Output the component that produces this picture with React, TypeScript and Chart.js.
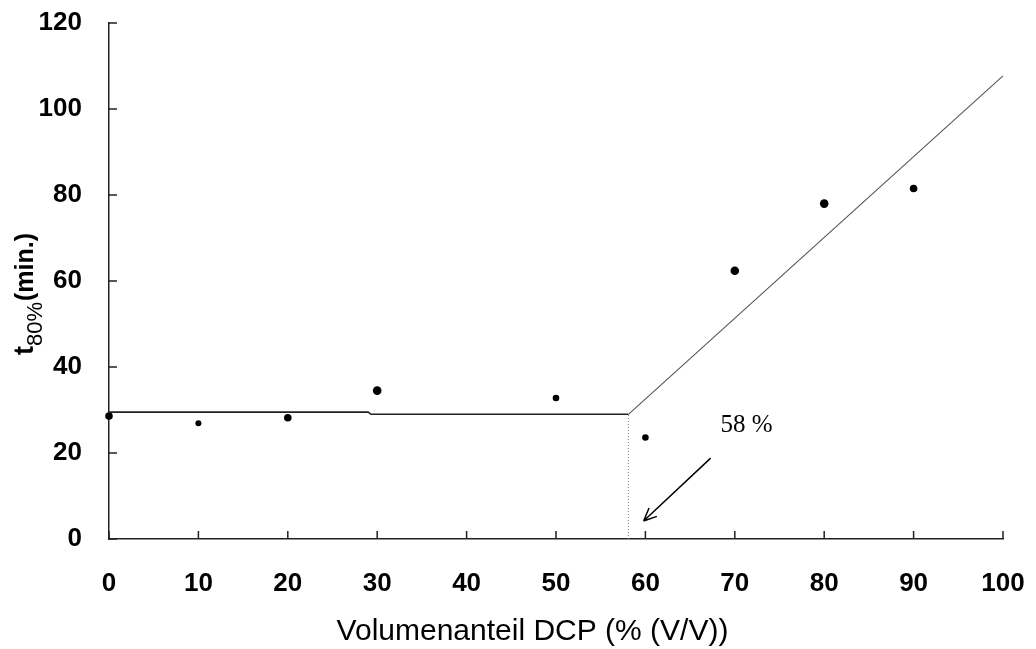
import React, { useEffect, useRef } from 'react';
import { Chart, registerables } from 'chart.js';

Chart.register(...registerables);

// ---- data ----
const xValues = [0, 10, 20, 30, 50, 60, 70, 80, 90];
const tValues = [28.6, 26.9, 28.2, 34.5, 32.8, 23.6, 62.4, 78.0, 81.5];

const plateauX = [0, 29, 29.3, 58.1];
const plateauY = [29.5, 29.5, 29.0, 29.0];

const riseX = [58.1, 100];
const riseY = [29.0, 107.7];

const breakX = [58.1, 58.1];
const breakY = [0, 29.0];

const xTicks = [0, 10, 20, 30, 40, 50, 60, 70, 80, 90, 100];
const yTicks = [0, 20, 40, 60, 80, 100, 120];

const xTitle = 'Volumenanteil DCP (% (V/V))';
const yTitleMain = 't';
const yTitleSub = '80%';
const yTitleRest = '(min.)';

const noteText = '58 %';
const noteAt = [68.4, 25.0];
const arrowFrom = [67.3, 18.8];
const arrowTo = [59.8, 4.2];

const SANS = '"Liberation Sans", Arial, sans-serif';
const SERIF = '"Liberation Serif", "Times New Roman", serif';

const pts = (xs: number[], ys: number[]) => xs.map((v, i) => ({ x: v, y: ys[i] }));

const overlay = {
  id: 'overlay',
  afterDraw(chart: any) {
    const { ctx, chartArea: a, scales } = chart;
    const x = scales.x;
    const y = scales.y;
    ctx.save();
    // inner tick marks
    ctx.strokeStyle = '#222';
    ctx.lineWidth = 1.5;
    ctx.beginPath();
    xTicks.forEach((v) => {
      const px = x.getPixelForValue(v);
      ctx.moveTo(px, a.bottom);
      ctx.lineTo(px, a.bottom - 8);
    });
    yTicks.forEach((v) => {
      const py = y.getPixelForValue(v);
      ctx.moveTo(a.left, py);
      ctx.lineTo(a.left + 8, py);
    });
    ctx.stroke();

    // arrow
    const x1 = x.getPixelForValue(arrowFrom[0]);
    const y1 = y.getPixelForValue(arrowFrom[1]);
    const x2 = x.getPixelForValue(arrowTo[0]);
    const y2 = y.getPixelForValue(arrowTo[1]);
    ctx.strokeStyle = '#000';
    ctx.lineWidth = 1.5;
    ctx.beginPath();
    ctx.moveTo(x1, y1);
    ctx.lineTo(x2, y2);
    const ang = Math.atan2(y2 - y1, x2 - x1);
    const hl = 14;
    const spread = 0.42;
    ctx.moveTo(x2, y2);
    ctx.lineTo(x2 - hl * Math.cos(ang - spread), y2 - hl * Math.sin(ang - spread));
    ctx.moveTo(x2, y2);
    ctx.lineTo(x2 - hl * Math.cos(ang + spread), y2 - hl * Math.sin(ang + spread));
    ctx.stroke();

    // note text
    ctx.fillStyle = '#000';
    ctx.font = `25px ${SERIF}`;
    ctx.textAlign = 'left';
    ctx.textBaseline = 'alphabetic';
    ctx.fillText(noteText, x.getPixelForValue(noteAt[0]), y.getPixelForValue(noteAt[1]));

    // x title
    ctx.font = `30px ${SANS}`;
    ctx.textAlign = 'center';
    ctx.fillText(xTitle, a.left + 423.5, a.bottom + 101);

    // y title (rotated, with subscript)
    ctx.translate(33, a.bottom - 184);
    ctx.rotate(-Math.PI / 2);
    ctx.textAlign = 'left';
    ctx.font = `bold 27px ${SANS}`;
    ctx.fillText(yTitleMain, 0, 0);
    let off = ctx.measureText(yTitleMain).width;
    ctx.font = `22px ${SANS}`;
    ctx.fillText(yTitleSub, off, 9);
    off += ctx.measureText(yTitleSub).width + 1;
    ctx.font = `bold 25px ${SANS}`;
    ctx.fillText(yTitleRest, off, 0);
    ctx.restore();
  },
};

export default function App() {
  const ref = useRef<HTMLCanvasElement | null>(null);
  useEffect(() => {
    if (!ref.current) return;
    const chart = new Chart(ref.current, {
      type: 'scatter',
      data: {
        datasets: [
          {
            label: 'plateau',
            data: pts(plateauX, plateauY),
            showLine: true,
            borderColor: '#222',
            borderWidth: 1.6,
            pointRadius: 0,
            clip: false,
          } as any,
          {
            label: 'rise',
            data: pts(riseX, riseY),
            showLine: true,
            borderColor: '#555',
            borderWidth: 1.1,
            pointRadius: 0,
            clip: false,
          } as any,
          {
            label: 'break',
            data: pts(breakX, breakY),
            showLine: true,
            borderColor: '#888',
            borderWidth: 1,
            borderDash: [1, 2],
            pointRadius: 0,
            clip: false,
          } as any,
          {
            label: 't80',
            data: pts(xValues, tValues),
            backgroundColor: '#000',
            borderColor: '#000',
            borderWidth: 0,
            pointRadius: [3.8, 3, 3.8, 4.3, 3.3, 3.3, 4.3, 4.3, 3.8],
            clip: false,
          } as any,
        ],
      },
      options: {
        animation: false,
        responsive: false,
        events: [],
        layout: { padding: { top: 23, right: 33, left: 0, bottom: 0 } },
        plugins: { legend: { display: false }, tooltip: { enabled: false } },
        scales: {
          x: {
            type: 'linear',
            min: 0,
            max: 100,
            afterFit: (s: any) => {
              s.height = 110;
              s.paddingLeft = 0;
              s.paddingRight = 0;
            },
            afterBuildTicks: (s: any) => {
              s.ticks = xTicks.map((v) => ({ value: v }));
            },
            grid: { display: false },
            border: { display: true, color: '#222', width: 1.5 },
            ticks: {
              color: '#000',
              padding: 21,
              maxRotation: 0,
              autoSkip: false,
              font: { family: SANS, size: 26, weight: 'bold' },
            },
          },
          y: {
            type: 'linear',
            min: 0,
            max: 120,
            afterFit: (s: any) => {
              s.width = 109;
              s.paddingTop = 0;
              s.paddingBottom = 0;
            },
            afterBuildTicks: (s: any) => {
              s.ticks = yTicks.map((v) => ({ value: v }));
            },
            grid: { display: false },
            border: { display: true, color: '#222', width: 1.5 },
            ticks: {
              color: '#000',
              padding: 19,
              autoSkip: false,
              font: { family: SANS, size: 26, weight: 'bold' },
            },
          },
        },
      } as any,
      plugins: [overlay],
    });
    return () => chart.destroy();
  }, []);
  return (
    <canvas
      ref={ref}
      width={1036}
      height={649}
      style={{ position: 'absolute', left: 0, top: 0, display: 'block', background: '#fff' }}
    />
  );
}
